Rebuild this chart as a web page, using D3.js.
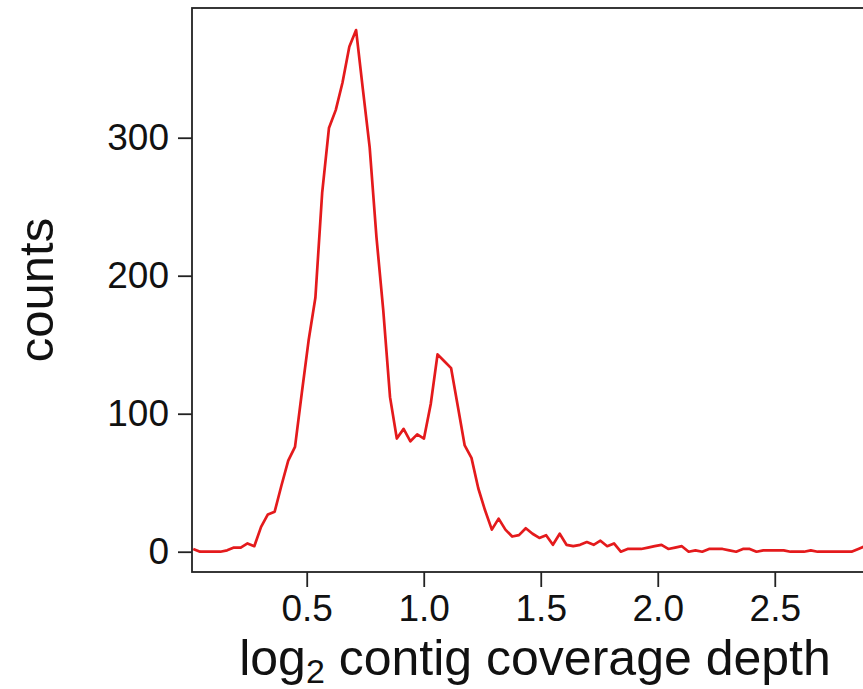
<!DOCTYPE html>
<html>
<head>
<meta charset="utf-8">
<script src="https://cdn.jsdelivr.net/npm/d3@7"></script>
<style>
  body { margin: 0; background: #fff; }
  svg { display: block; font-family: "Liberation Sans", Arial, sans-serif; }
</style>
</head>
<body>
<div id="chart"></div>
<script>
// bin centres (log2 depth) and counts
const depth = [
  0.015, 0.044, 0.073, 0.102, 0.131, 0.160, 0.189, 0.218, 0.247, 0.276,
  0.305, 0.334, 0.363, 0.392, 0.421, 0.450, 0.479, 0.508, 0.537, 0.566,
  0.595, 0.624, 0.653, 0.682, 0.711, 0.740, 0.769, 0.798, 0.827, 0.856,
  0.885, 0.914, 0.943, 0.972, 1.001, 1.030, 1.059, 1.088, 1.117, 1.146,
  1.175, 1.204, 1.233, 1.262, 1.291, 1.320, 1.349, 1.378, 1.407, 1.436,
  1.465, 1.494, 1.523, 1.552, 1.581, 1.610, 1.639, 1.668, 1.697, 1.726,
  1.755, 1.784, 1.813, 1.842, 1.871, 1.900, 1.929, 1.958, 1.987, 2.016,
  2.045, 2.074, 2.103, 2.132, 2.161, 2.190, 2.219, 2.248, 2.277, 2.306,
  2.335, 2.364, 2.393, 2.422, 2.451, 2.480, 2.509, 2.538, 2.567, 2.596,
  2.625, 2.654, 2.683, 2.712, 2.741, 2.770, 2.799, 2.828, 2.857, 2.886
];
const counts = [
  2, 0, 0, 0, 0, 1, 3, 3, 6, 4,
  18, 27, 29, 48, 66, 76, 115, 153, 184, 260,
  307, 320, 340, 366, 378, 335, 293, 228, 175, 112,
  82, 89, 80, 85, 82, 107, 143, 138, 133, 105,
  77, 68, 46, 30, 16, 24, 16, 11, 12, 17,
  13, 10, 12, 5, 13, 5, 4, 5, 7, 5,
  8, 4, 6, 0, 2, 2, 2, 3, 4, 5,
  2, 3, 4, 0, 1, 0, 2, 2, 2, 1,
  0, 2, 2, 0, 1, 1, 1, 1, 0, 0,
  0, 1, 0, 0, 0, 0, 0, 0, 2, 4
];
const xTicks = [0.5, 1.0, 1.5, 2.0, 2.5];
const yTicks = [0, 100, 200, 300];

const width = 863, height = 689;
const plot = { left: 192, top: 8, right: 863, bottom: 572 };

const svg = d3.select('#chart').append('svg')
  .attr('width', width)
  .attr('height', height);

const x = d3.scaleLinear()
  .domain([0.0098, 2.877])
  .range([plot.left, plot.right]);

const y = d3.scaleLinear()
  .domain([-14.7, 394])
  .range([plot.bottom, plot.top]);

svg.append('clipPath').attr('id', 'clip')
  .append('rect')
  .attr('x', plot.left).attr('y', plot.top)
  .attr('width', plot.right - plot.left).attr('height', plot.bottom - plot.top);

const line = d3.line()
  .x((d, i) => x(depth[i]))
  .y(d => y(d));

svg.append('path')
  .datum(counts)
  .attr('clip-path', 'url(#clip)')
  .attr('fill', 'none')
  .attr('stroke', '#e41a1c')
  .attr('stroke-width', 2.7)
  .attr('stroke-linejoin', 'round')
  .attr('d', line);

// frame (right side runs off the page)
svg.append('rect')
  .attr('x', plot.left).attr('y', plot.top)
  .attr('width', plot.right - plot.left + 20).attr('height', plot.bottom - plot.top)
  .attr('fill', 'none')
  .attr('stroke', '#222')
  .attr('stroke-width', 1.8);

const xAxis = svg.append('g')
  .attr('transform', `translate(0,${plot.bottom})`)
  .call(d3.axisBottom(x).tickValues(xTicks).tickFormat(d3.format('.1f')).tickSize(15).tickPadding(8));

const yAxis = svg.append('g')
  .attr('transform', `translate(${plot.left},0)`)
  .call(d3.axisLeft(y).tickValues(yTicks).tickSize(14).tickPadding(9));

[xAxis, yAxis].forEach(g => {
  g.select('.domain').remove();
  g.selectAll('line').attr('stroke', '#222').attr('stroke-width', 1.8);
  g.selectAll('text')
    .attr('fill', '#111')
    .style('font-family', '"Liberation Sans", Arial, sans-serif')
    .style('font-size', '37px');
});

const title = svg.append('text')
  .attr('x', 535)
  .attr('y', 675)
  .attr('text-anchor', 'middle')
  .attr('fill', '#111')
  .style('font-size', '50px');
title.append('tspan').text('log');
title.append('tspan').attr('dy', 8).style('font-size', '34px').text('2');
title.append('tspan').attr('dy', -8).text(' contig coverage depth');

svg.append('text')
  .attr('transform', 'translate(53,290) rotate(-90)')
  .attr('text-anchor', 'middle')
  .attr('fill', '#111')
  .style('font-size', '49px')
  .text('counts');
</script>
</body>
</html>
